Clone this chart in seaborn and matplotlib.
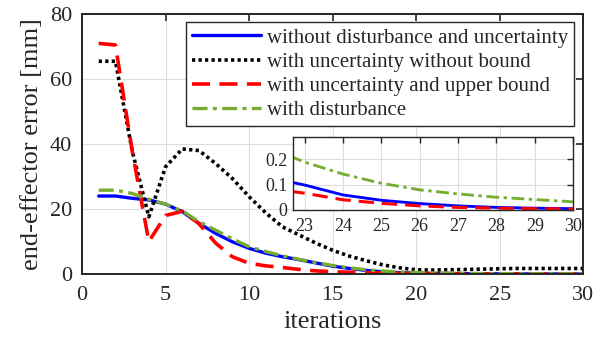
import numpy as np
import pandas as pd
import matplotlib
matplotlib.use("Agg")
import matplotlib.pyplot as plt
import seaborn as sns

iterations = list(range(1, 31))
labels = [
    "without disturbance and uncertainty",
    "with uncertainty without bound",
    "with uncertainty and upper bound",
    "with disturbance",
]
no_dist = [24.0, 24.0, 23.3, 22.8, 21.5, 19.2, 15.6, 12.5, 9.9, 7.9,
           6.4, 5.3, 4.4, 3.4, 2.4, 1.7, 1.1, 0.65, 0.4, 0.25,
           0.17, 0.13, 0.098, 0.059, 0.038, 0.025, 0.016, 0.010, 0.007, 0.005]
unc_nobound = [65.5, 65.5, 38.0, 17.6, 33.0, 38.5, 38.0, 34.0, 29.4, 23.8,
               18.8, 14.5, 12.0, 9.5, 7.3, 5.5, 4.1, 2.8, 1.9, 1.3,
               1.2, 1.3, 1.4, 1.5, 1.6, 1.7, 1.7, 1.7, 1.7, 1.7]
unc_upper = [71.0, 70.5, 38.0, 10.0, 18.0, 19.3, 15.5, 9.5, 5.3, 3.3,
             2.5, 2.0, 1.4, 0.95, 0.7, 0.55, 0.4, 0.3, 0.2, 0.15,
             0.11, 0.085, 0.066, 0.040, 0.026, 0.016, 0.010, 0.007, 0.005, 0.004]
with_dist = [25.8, 25.8, 24.8, 23.0, 21.5, 19.4, 16.1, 13.5, 10.8, 8.4,
             6.9, 5.6, 4.5, 3.5, 2.6, 1.9, 1.3, 0.9, 0.62, 0.44,
             0.33, 0.25, 0.188, 0.141, 0.105, 0.079, 0.063, 0.050, 0.041, 0.032]

series = [no_dist, unc_nobound, unc_upper, with_dist]
df = pd.DataFrame({
    "iterations": iterations * 4,
    "error": sum(series, []),
    "case": sum([[lab] * len(iterations) for lab in labels], []),
})

colors = ["#0000ff", "#000000", "#ff0000", "#77ac30"]
styles = [
    dict(linestyle="-", linewidth=2.4),
    dict(linestyle=(0, (0.9, 0.9)), linewidth=2.6),
    dict(linestyle=(0, (5, 2.6)), linewidth=2.6),
    dict(linestyle=(0, (4.5, 1.6, 1.2, 1.6)), linewidth=2.4),
]

sns.set_style("white")
plt.rcParams["font.family"] = ["Liberation Serif", "DejaVu Serif"]

fig = plt.figure(figsize=(6.12, 3.37), dpi=100)
ax = fig.add_axes([0.134, 0.187, 0.819, 0.771])

for lab, col, st in zip(labels, colors, styles):
    sns.lineplot(data=df[df["case"] == lab], x="iterations", y="error",
                 ax=ax, color=col, label=lab, **st)

ax.set_xlim(0, 30)
ax.set_ylim(0, 80)
ax.set_xticks(range(0, 31, 5))
ax.set_yticks(range(0, 81, 20))
ax.grid(True, color="#dddddd", linewidth=0.8)
ax.tick_params(direction="in", top=True, right=True, length=5, width=1.2,
               labelsize=16, colors="#262626")
ax.tick_params(axis="x", pad=9)
ax.tick_params(axis="y", pad=7)
for s in ax.spines.values():
    s.set_color("#262626")
    s.set_linewidth(1.4)
ax.set_xlabel("iterations", fontsize=19, color="#262626", labelpad=4)
ax.set_ylabel("end-effector error [mm]", fontsize=19, color="#262626", labelpad=5)

leg = ax.legend(loc="upper right", bbox_to_anchor=(0.982, 0.969),
                borderaxespad=0, fontsize=15, frameon=True, fancybox=False,
                framealpha=1, edgecolor="#262626", handlelength=3.3,
                handletextpad=0.3, labelspacing=0.22, borderpad=0.28)
leg.get_frame().set_linewidth(1.0)

# inset
ins = fig.add_axes([0.479, 0.377, 0.4575, 0.2166])
for lab, col, st in zip(labels, colors, styles):
    if lab == labels[1]:
        continue
    sub = df[(df["case"] == lab) & (df["iterations"] >= 22)]
    st2 = dict(st)
    st2["linewidth"] = st["linewidth"] * 0.85
    sns.lineplot(data=sub, x="iterations", y="error", ax=ins, color=col,
                 legend=False, **st2)
ins.set_xlim(22.7, 30)
ins.set_ylim(0, 0.287)
ins.set_xticks(range(23, 31))
ins.set_yticks([0, 0.1, 0.2])
ins.set_yticklabels(["0", "0.1", "0.2"])
ins.set_xlabel("")
ins.set_ylabel("")
ins.grid(True, color="#dddddd", linewidth=0.8)
ins.tick_params(direction="in", top=True, right=True, length=4, width=1.0,
                labelsize=13, colors="#262626")
ins.tick_params(axis="x", pad=6)
ins.tick_params(axis="y", pad=4)
for s in ins.spines.values():
    s.set_color("#262626")
    s.set_linewidth(1.0)

fig.savefig("out.png", dpi=100)
